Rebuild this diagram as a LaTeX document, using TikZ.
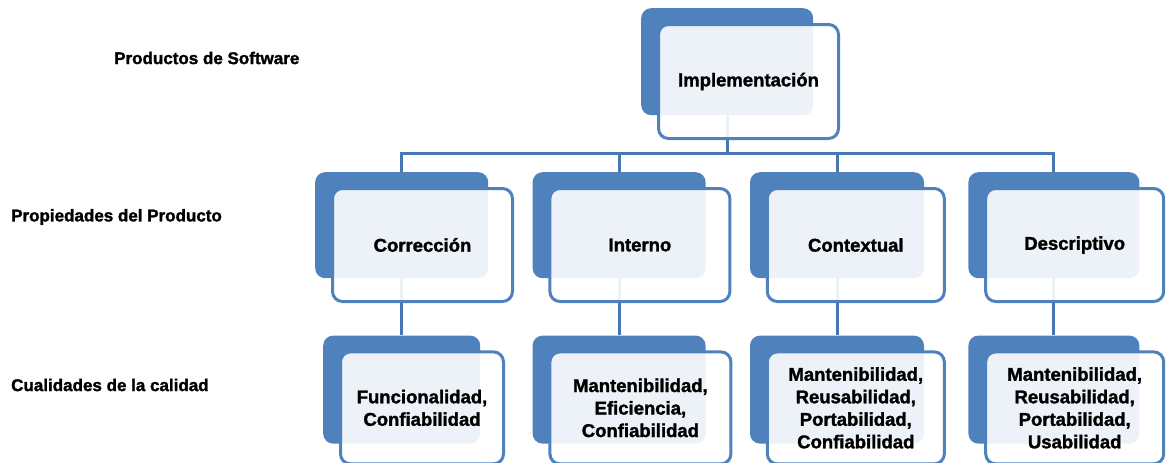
\documentclass[tikz,border=0pt]{standalone}
\usepackage{fontspec}
\setmainfont{Liberation Sans}[BoldFeatures={FakeBold=1.6}]
\usetikzlibrary{positioning}
\definecolor{brand}{HTML}{4F81BD}
\definecolor{linkblue}{HTML}{4677B4}

\begin{document}
\begin{tikzpicture}[
  x=1pt, y=-1pt,
  backbox/.style={fill=brand, rounded corners=10pt, minimum height=106pt,
                  anchor=north west, inner sep=0pt},
  frontbox/.style={draw=brand, line width=3pt, fill=white, fill opacity=0.9,
                   text opacity=1, rounded corners=10pt, minimum height=113pt,
                   anchor=north west, xshift=16pt, yshift=-15pt, align=center,
                   font=\fontsize{18.5}{22.5}\selectfont\bfseries},
  rowlabel/.style={anchor=west, inner sep=0pt, font=\fontsize{17}{20}\selectfont\bfseries},
  link/.style={draw=linkblue, line width=3pt}
]
  \useasboundingbox (0,0) rectangle (1168,463);

  % Row labels
  \node[rowlabel] (lblprod) at (114,58) {Productos de Software};
  \node[rowlabel] (lblprop) at (11,217) {Propiedades del Producto};
  \node[rowlabel] (lblcual) at (11,385) {Cualidades de la calidad};

  % Back boxes
  \node[backbox, minimum width=172pt, minimum height=107pt] (impl) at (641,8) {};

  \node[backbox, minimum width=173pt] (corr) at (315,172) {};
  \node[backbox, minimum width=173pt, right=44pt of corr] (inter) {};
  \node[backbox, minimum width=174pt, right=44pt of inter] (ctx) {};
  \node[backbox, minimum width=171pt, right=44pt of ctx] (desc) {};

  \node[backbox, minimum width=157pt, minimum height=108pt, below=57pt of corr] (func) {};
  \node[backbox, minimum width=173pt, minimum height=108pt, below=57pt of inter] (mant) {};
  \node[backbox, minimum width=174pt, minimum height=108pt, below=57pt of ctx] (reus) {};
  \node[backbox, minimum width=171pt, minimum height=108pt, below=57pt of desc] (usab) {};

  % Connectors
  \coordinate (hub) at (impl.south |- 0,153);
  \draw[link] (impl.south) -- (hub);
  \draw[link] (corr.north) |- (hub) -| (desc.north);
  \draw[link] (inter.north) -- (inter.north |- hub);
  \draw[link] (ctx.north) -- (ctx.north |- hub);

  \draw[link] (corr.south) -- (func.north);
  \draw[link] (inter.south) -- (mant.north);
  \draw[link] (ctx.south) -- (reus.north);
  \draw[link] (desc.south) -- (usab.north);

  % Front boxes
  \node[frontbox, minimum width=180pt, minimum height=114pt] (implF) at (impl.north west) {Implementación};

  \node[frontbox, minimum width=180pt] (corrF) at (corr.north west) {Corrección};
  \node[frontbox, minimum width=180pt] (interF) at (inter.north west) {Interno};
  \node[frontbox, minimum width=177pt] (ctxF) at (ctx.north west) {Contextual};
  \node[frontbox, minimum width=178pt] (descF) at (desc.north west) {Descriptivo};

  \node[frontbox, minimum width=163pt, minimum height=112pt] (funcF) at (func.north west)
    {Funcionalidad,\\Confiabilidad};
  \node[frontbox, minimum width=181pt, minimum height=112pt] (mantF) at (mant.north west)
    {Mantenibilidad,\\Eficiencia,\\Confiabilidad};
  \node[frontbox, minimum width=177pt, minimum height=112pt] (reusF) at (reus.north west)
    {Mantenibilidad,\\Reusabilidad,\\Portabilidad,\\Confiabilidad};
  \node[frontbox, minimum width=178pt, minimum height=112pt] (usabF) at (usab.north west)
    {Mantenibilidad,\\Reusabilidad,\\Portabilidad,\\Usabilidad};
\end{tikzpicture}
\end{document}
